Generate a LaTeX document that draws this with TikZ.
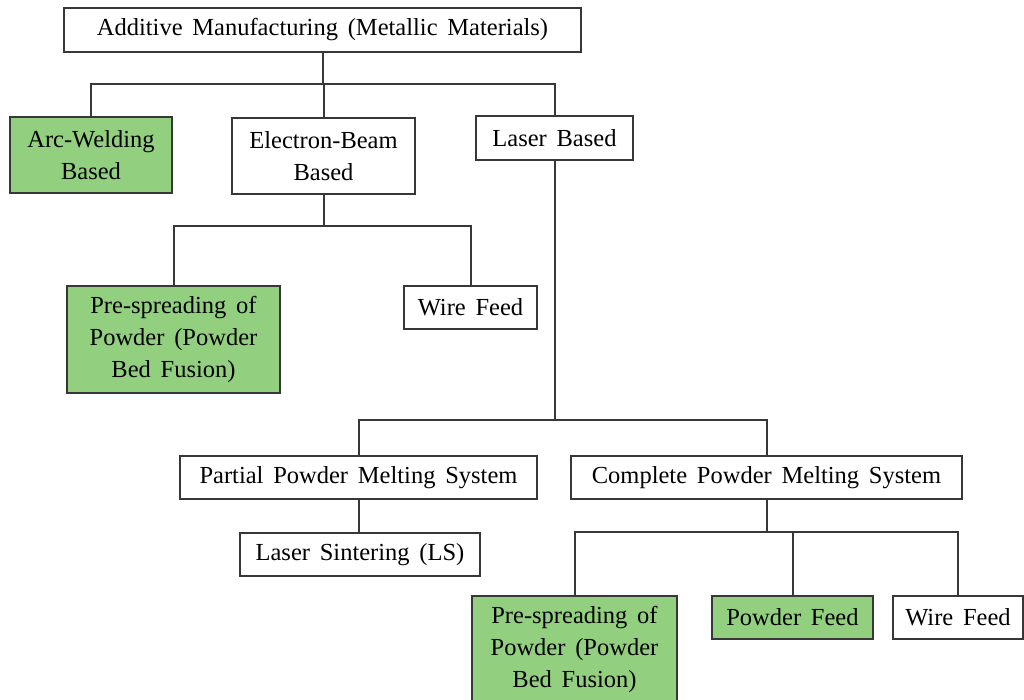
\documentclass[tikz,border=0pt]{standalone}
\usepackage{fontspec}
\setmainfont{Liberation Serif}
\definecolor{boxgreen}{RGB}{146,208,128}
\definecolor{edge}{RGB}{55,55,55}
\newcommand{\boxfont}{\fontsize{24.5}{32}\selectfont\spaceskip=0.40em\relax}
\begin{document}
\begin{tikzpicture}[x=1pt,y=-1pt,
  box/.style={draw=edge,line width=1.6pt,rectangle,inner sep=0pt,align=center,
    font=\boxfont,text=black},
  gbox/.style={box,fill=boxgreen},
  conn/.style={draw=edge,line width=2pt}]
\clip (0,0) rectangle (1024,700);
\fill[white] (0,0) rectangle (1024,700);
\node[box,minimum width=517pt,minimum height=44pt] (top) at (322.5,30) {Additive Manufacturing (Metallic Materials)};
\node[gbox,minimum width=162pt,minimum height=76pt] (arc) at (91,155) {Arc-Welding\\Based};
\node[box,minimum width=183pt,minimum height=76pt] (eb) at (323.5,156) {Electron-Beam\\Based};
\node[box,minimum width=157pt,minimum height=44pt] (laser) at (554.5,138) {Laser Based};
\node[gbox,minimum width=213pt,minimum height=107pt] (pre1) at (173.5,339.5) {Pre-spreading of\\Powder (Powder\\Bed Fusion)};
\node[box,minimum width=133pt,minimum height=43pt] (wf1) at (470.5,307.5) {Wire Feed};
\node[box,minimum width=357pt,minimum height=43pt] (partial) at (358.5,477.5) {Partial Powder Melting System};
\node[box,minimum width=391pt,minimum height=43pt] (complete) at (766.5,477.5) {Complete Powder Melting System};
\node[box,minimum width=240pt,minimum height=43pt] (ls) at (360,554.5) {Laser Sintering (LS)};
\node[gbox,minimum width=205pt,minimum height=107pt] (pre2) at (574.5,649.5) {Pre-spreading of\\Powder (Powder\\Bed Fusion)};
\node[gbox,minimum width=161pt,minimum height=43pt] (pf) at (792.5,617.5) {Powder Feed};
\node[box,minimum width=130pt,minimum height=43pt] (wf2) at (958,617.5) {Wire Feed};
% junctions
\coordinate (j1) at (322,84);
\coordinate (j2) at (320,226);
\coordinate (j3) at (557,420);
\coordinate (j4) at (765,532);
\path[conn] (top.south) -- (top.south |- j1);
\path[conn] (arc.north) |- (j1);
\path[conn] (laser.north) |- (j1);
\path[conn] (eb.north) -- (eb.north |- j1);
\path[conn] (eb.south) -- (eb.south |- j2);
\path[conn] (pre1.north) |- (j2);
\path[conn] (wf1.north) |- (j2);
\path[conn] (laser.south) -- (laser.south |- j3);
\path[conn] (partial.north) |- (j3);
\path[conn] (complete.north) |- (j3);
\path[conn] (partial.south) -- (partial.south |- ls.north);
\path[conn] (complete.south) -- (complete.south |- j4);
\path[conn] (pre2.north) |- (j4);
\path[conn] (wf2.north) |- (j4);
\path[conn] (pf.north) -- (pf.north |- j4);
\end{tikzpicture}
\end{document}
